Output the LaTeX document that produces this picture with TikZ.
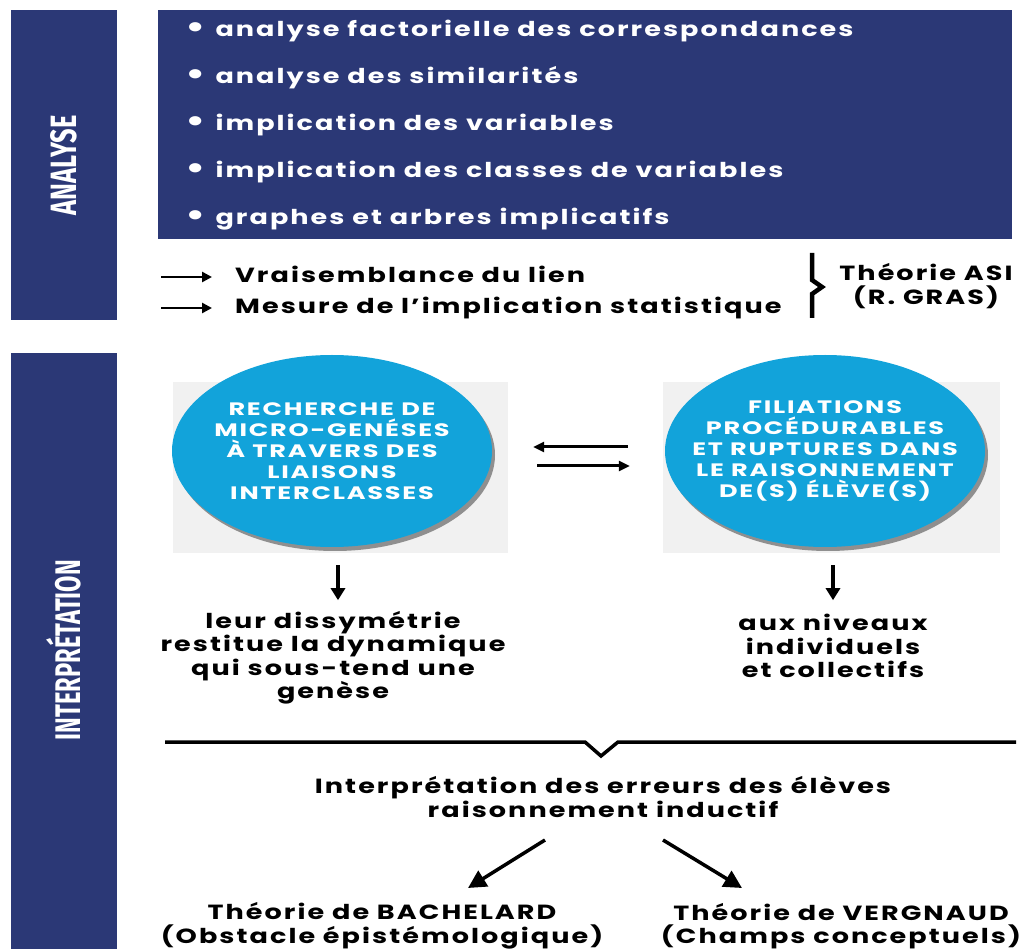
\documentclass[tikz,border=0pt]{standalone}
\usepackage{fontspec}
\setmainfont{Poppins}
\newfontfamily\geo{Poppins}[FakeStretch=1.32,LetterSpace=10]
\newfontfamily\geocaps{Poppins}[FakeStretch=1.42,LetterSpace=10]
\newfontfamily\labfont{Fira Sans}
\usetikzlibrary{arrows.meta,shapes.geometric,shadows}
\definecolor{navy}{RGB}{43,56,118}
\definecolor{cyanb}{RGB}{18,163,218}
\definecolor{paper}{RGB}{241,241,241}
\newcommand{\bul}{\raisebox{-1pt}{\scalebox{1.5}{•}}\hspace{10pt}}
\begin{document}
\begin{tikzpicture}[x=1pt,y=-1pt,
  bar/.style={fill=navy,draw=none,anchor=north west,inner sep=0pt},
  vlabel/.style={rotate=90,text=white,inner sep=0pt},
  item/.style={text=white,anchor=base west,inner sep=0pt,font=\geo\bfseries\fontsize{20.5}{24}\selectfont},
  body/.style={text=black,inner sep=0pt,align=center,font=\geo\bfseries\fontsize{20.5}{23.5}\selectfont},
  lineitem/.style={text=black,anchor=base west,inner sep=0pt,font=\geo\bfseries\fontsize{20.5}{24}\selectfont},
  bubble/.style={ellipse,fill=cyanb,draw=none,inner sep=0pt,
     minimum width=320pt,minimum height=192pt,
     drop shadow={shadow xshift=3pt,shadow yshift=-4pt,opacity=0.55,fill=black!75}},
  bubtext/.style={text=white,align=center,inner sep=0pt,
     font=\geocaps\bfseries\fontsize{18}{21}\selectfont},
  photo/.style={fill=paper,draw=none,inner sep=0pt},
  smallarr/.style={line width=2.8pt,-{Triangle[length=10pt,width=10pt]}},
  midarr/.style={line width=3pt,-{Triangle[length=11pt,width=10pt]}},
  downarr/.style={line width=3.5pt,-{Triangle[length=12pt,width=14pt]}},
  diagarr/.style={line width=3.5pt,-{Triangle[length=18pt,width=18pt]}},
  heavy/.style={line width=3.5pt,line join=miter}
]
\useasboundingbox[fill=white] (0,0) rectangle (1029,949);

% ---- ANALYSE ----
\node[bar,minimum width=106pt,minimum height=310pt] (anbar) at (11,10) {};
\node[vlabel] (anlab) at (anbar.center) {\resizebox{100pt}{26pt}{\labfont\bfseries ANALYSE}};

\node[bar,minimum width=854pt,minimum height=229pt] (topbox) at (158,10) {};
\node[item] (b1) at (185,37) {\bul analyse factorielle des correspondances};
\node[item] (b2) at (185,84) {\bul analyse des similarités};
\node[item] (b3) at (185,131) {\bul implication des variables};
\node[item] (b4) at (185,178) {\bul implication des classes de variables};
\node[item] (b5) at (185,225) {\bul graphes et arbres implicatifs};

\coordinate (a1s) at (161,277);
\coordinate (a2s) at (161,308);
\node[lineitem] (v1) at (235,283) {Vraisemblance du lien};
\node[lineitem] (v2) at (235,314) {Mesure de l’implication statistique};
\draw[smallarr,shorten >=23pt] (a1s) -- (a1s -| v1.west);
\draw[smallarr,shorten >=23pt] (a2s) -- (a2s -| v2.west);

\draw[line width=4.5pt,line join=miter] (812,253) -- (812,280) -- (822,287) -- (812,294) -- (812,318);
\node[body] (asi) at (926,286) {Théorie ASI\\(R. GRAS)};

% ---- INTERPRETATION ----
\node[bar,minimum width=106pt,minimum height=596pt] (inbar) at (11,353) {};
\node[vlabel] (inlab) at ([yshift=1pt]inbar.center) {\resizebox{180pt}{34pt}{\labfont\bfseries INTERPRÉTATION}};

\node[photo,minimum width=335pt,minimum height=171pt] (g1) at (340.5,467.5) {};
\node[photo,minimum width=337pt,minimum height=171pt] (g2) at (831.5,467.5) {};
\node[bubble] (e1) at (332,451) {};
\node[bubble] (e2) at (825,451) {};
\node[bubtext] (e1t) at (e1.center) {RECHERCHE DE\\MICRO-GENÉSES\\À TRAVERS DES\\LIAISONS\\INTERCLASSES};
\node[bubtext] (e2t) at (e2.center) {FILIATIONS\\PROCÉDURABLES\\ET RUPTURES DANS\\LE RAISONNEMENT\\DE(S) ÉLÈVE(S)};

\draw[midarr,shorten <=37pt,shorten >=41pt] ([yshift=4pt]e2.west) -- ([yshift=4pt]e1.east);
\draw[midarr,shorten <=45pt,shorten >=35pt] ([yshift=-15pt]e1.east) -- ([yshift=-15pt]e2.west);

\node[body] (t1) at (333,658) {leur dissymétrie\\restitue la dynamique\\qui sous-tend une\\genèse};
\node[body] (t2) at (833,646) {aux niveaux\\individuels\\et collectifs};
\draw[downarr] (e1.south -| 338,0) ++(0,18) -- ++(0,35);
\draw[downarr] (e2.south -| t2.north) ++(0,18) -- ++(0,35);

\draw[heavy] (165,742) -- (585,742) -- (601,756) -- (618,742) -- (1016,742);
\node[body] (it1) at (603,797) {Interprétation des erreurs des élèves\\raisonnement inductif};

\node[body] (th1) at (382,926) {Théorie de BACHELARD\\(Obstacle épistémologique)};
\node[body] (th2) at (841,926) {Théorie de VERGNAUD\\(Champs conceptuels)};
\coordinate (d1s) at (545,840);
\coordinate (d1e) at (468,888);
\coordinate (d2s) at (663,840);
\coordinate (d2e) at (742,888);
\draw[diagarr] (d1s) -- (d1e);
\draw[diagarr] (d2s) -- (d2e);
\end{tikzpicture}
\end{document}
